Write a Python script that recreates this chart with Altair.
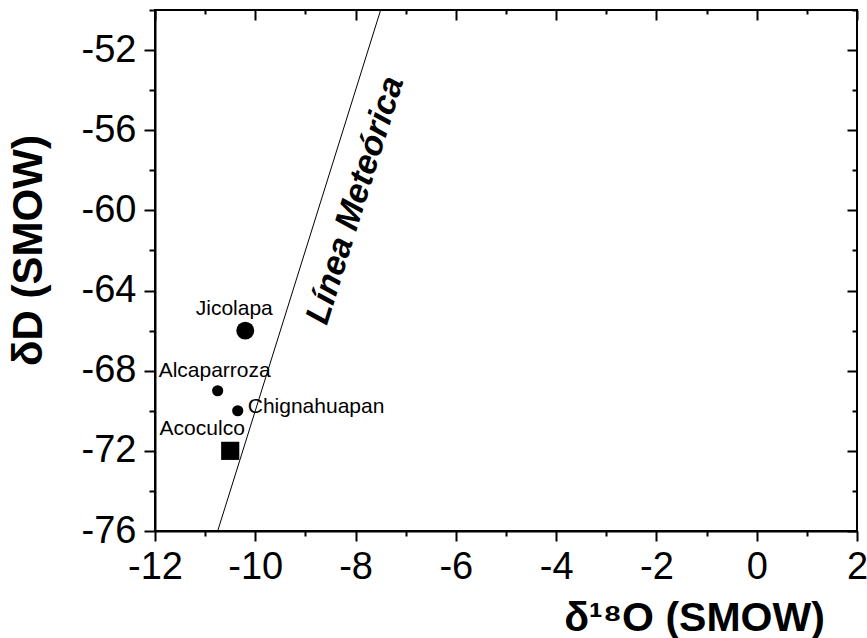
import altair as alt
import pandas as pd

# ---- data ----
site = ["Jicolapa", "Alcaparroza", "Chignahuapan", "Acoculco"]
d18o = [-10.2, -10.75, -10.35, -10.5]
dD = [-66.0, -69.0, -70.0, -72.0]
kind = ["big", "small", "small", "square"]

# meteoric water line end points (dD = 8 d18O + 10)
gmwl_x = [-10.75, -7.5]
gmwl_y = [-76.0, -50.0]

line_label = ["Línea Meteórica"]
line_label_x = [-8.0]
line_label_y = [-59.5]

x_ticks = list(range(-12, 3))          # every 1, labels every 2
y_ticks = list(range(-76, -49, 2))     # every 2, labels every 4
x_major = [v for v in x_ticks if v % 2 == 0]
x_minor = [v for v in x_ticks if v % 2 != 0]
y_major = [v for v in y_ticks if v % 4 == 0]
y_minor = [v for v in y_ticks if v % 4 != 0]

pts = pd.DataFrame({"site": site, "x": d18o, "y": dD, "kind": kind})
line_df = pd.DataFrame({"x": gmwl_x, "y": gmwl_y})
lab_df = pd.DataFrame({"t": line_label, "x": line_label_x, "y": line_label_y})

FONT = "Liberation Sans"
xs = alt.Scale(domain=[-12, 2], nice=False, zero=False)
ys = alt.Scale(domain=[-76, -50], nice=False, zero=False)

x_main_axis = alt.Axis(
    orient="bottom", values=x_ticks, grid=False,
    tickSize={"condition": {"test": "datum.value % 2 === 0", "value": 10}, "value": 5},
    tickWidth=2, tickColor="black", domainColor="black", domainWidth=2,
    labelExpr="datum.value % 2 === 0 ? '' + datum.value : ''",
    labelFont=FONT, labelFontSize=38, labelColor="black", labelPadding=7,
    labelFlush=False, labelOverlap=False,
    title="δ¹⁸O (SMOW)", titleFont=FONT, titleFontSize=41, titleFontWeight="bold",
    titleColor="black", titleX=539, titleY=99, titleBaseline="alphabetic",
    titleAlign="center",
)
y_main_axis = alt.Axis(
    orient="left", values=y_ticks, grid=False,
    tickSize={"condition": {"test": "datum.value % 4 === 0", "value": 11}, "value": 6},
    tickWidth=2, tickColor="black", domainColor="black", domainWidth=2,
    labelExpr="datum.value % 4 === 0 ? '' + datum.value : ''",
    labelFont=FONT, labelFontSize=38, labelColor="black", labelPadding=8,
    labelFlush=False, labelOverlap=False,
    title="δD (SMOW)", titleFont=FONT, titleFontSize=42, titleFontWeight="bold",
    titleColor="black", titleX=-114, titleY=240, titleBaseline="alphabetic",
    titleAlign="center", titleAngle=270,
)


def mirror_axis(orient, values, size, offset):
    return alt.Axis(
        orient=orient, values=values, grid=False, labels=False, domain=False,
        tickSize=size, tickWidth=2, tickColor="black", offset=offset, title=None,
    )


line = alt.Chart(line_df).mark_line(color="black", strokeWidth=1, clip=True).encode(
    x=alt.X("x:Q", scale=xs, axis=x_main_axis),
    y=alt.Y("y:Q", scale=ys, axis=y_main_axis),
)

circles = alt.Chart(pts).transform_filter("datum.kind != 'square'").mark_circle(
    color="black", opacity=1
).encode(
    x=alt.X("x:Q", scale=xs, axis=mirror_axis("top", x_major, 10, -10)),
    y=alt.Y("y:Q", scale=ys, axis=mirror_axis("right", y_major, 10, -10)),
    size=alt.Size("kind:N", scale=alt.Scale(domain=["big", "small"], range=[320, 125]), legend=None),
)

square = alt.Chart(pts).transform_filter("datum.kind == 'square'").mark_square(
    color="black", opacity=1, size=330
).encode(
    x=alt.X("x:Q", scale=xs, axis=mirror_axis("top", x_minor, 4, -4)),
    y=alt.Y("y:Q", scale=ys, axis=mirror_axis("right", y_minor, 5, -5)),
)

# label offsets (pixels) relative to each point
offsets = {
    "Jicolapa": dict(align="center", dx=-11, dy=-22),
    "Alcaparroza": dict(align="center", dx=-3, dy=-20),
    "Chignahuapan": dict(align="left", dx=10, dy=-4),
    "Acoculco": dict(align="center", dx=-28, dy=-22),
}
texts = []
for s in site:
    o = offsets[s]
    texts.append(
        alt.Chart(pts).transform_filter(alt.datum.site == s).mark_text(
            font=FONT, fontSize=21, color="black", baseline="middle", **o
        ).encode(
            x=alt.X("x:Q", scale=xs, axis=None),
            y=alt.Y("y:Q", scale=ys, axis=None),
            text="site:N",
        )
    )

line_text = alt.Chart(lab_df).mark_text(
    font=FONT, fontSize=34, fontWeight="bold", fontStyle="italic", color="black",
    angle=287.4, align="center", baseline="middle",
).encode(
    x=alt.X("x:Q", scale=xs, axis=None),
    y=alt.Y("y:Q", scale=ys, axis=None),
    text="t:N",
)

chart = alt.layer(line, circles, square, *texts, line_text).resolve_axis(
    x="independent", y="independent"
).properties(
    width=702, height=521,
    autosize=alt.AutoSizeParams(type="none"),
    padding={"left": 155, "top": 10, "right": 10, "bottom": 107},
    background="white",
).configure_view(stroke="black", strokeWidth=2)

chart.save("out.html", embed_options={"renderer": "svg", "actions": False})
